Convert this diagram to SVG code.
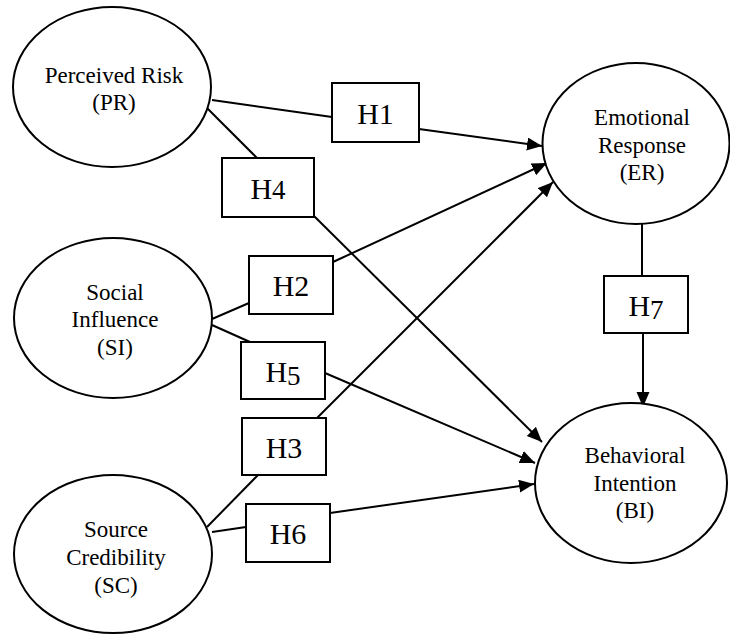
<svg xmlns="http://www.w3.org/2000/svg" width="730" height="635" viewBox="0 0 730 635">
<style>
.node ellipse{fill:#fff;stroke:#000;stroke-width:2}
.hyp rect{fill:#fff;stroke:#000;stroke-width:2}
.lbl{font-family:"Liberation Serif","Times New Roman",serif;font-size:23px;fill:#000;text-anchor:middle}
.hl{font-family:"Liberation Serif","Times New Roman",serif;font-size:30px;fill:#000;text-anchor:middle}
.os{font-size:27px}
.conn line{stroke:#000;stroke-width:2;fill:none}
</style>
<defs>
<marker id="arr" markerUnits="userSpaceOnUse" markerWidth="16" markerHeight="14" refX="15" refY="6.5" orient="auto">
<path d="M0,0 L15,6.5 L0,13 z" fill="#000"/>
</marker>
</defs>
<rect width="730" height="635" fill="#fff"/>
<g id="connectors" class="conn">
<line x1="212" y1="100" x2="332" y2="117"/>
<line x1="419" y1="129" x2="542" y2="146" marker-end="url(#arr)"/>
<line x1="207" y1="108" x2="257" y2="158"/>
<line x1="314" y1="216" x2="542" y2="442" marker-end="url(#arr)"/>
<line x1="212" y1="319" x2="249" y2="303"/>
<line x1="333" y1="262" x2="547" y2="163" marker-end="url(#arr)"/>
<line x1="212" y1="325" x2="250" y2="342"/>
<line x1="325" y1="373" x2="535" y2="463" marker-end="url(#arr)"/>
<line x1="207" y1="527" x2="258" y2="475"/>
<line x1="317" y1="418" x2="553" y2="182" marker-end="url(#arr)"/>
<line x1="212" y1="532" x2="246" y2="527"/>
<line x1="330" y1="513" x2="534" y2="484" marker-end="url(#arr)"/>
<line x1="642" y1="217" x2="642" y2="276"/>
<line x1="643" y1="333" x2="643" y2="407" marker-end="url(#arr)"/>
</g>
<g id="PR" class="node">
<ellipse cx="112" cy="87" rx="99" ry="80"/>
<text class="lbl" x="114" y="83">Perceived Risk</text>
<text class="lbl" x="114" y="110">(PR)</text>
</g>
<g id="SI" class="node">
<ellipse cx="113" cy="318" rx="99" ry="80"/>
<text class="lbl" x="115" y="300">Social</text>
<text class="lbl" x="115" y="327">Influence</text>
<text class="lbl" x="115" y="355">(SI)</text>
</g>
<g id="SC" class="node">
<ellipse cx="113" cy="554" rx="99" ry="79"/>
<text class="lbl" x="116" y="537">Source</text>
<text class="lbl" x="116" y="565">Credibility</text>
<text class="lbl" x="116" y="593">(SC)</text>
</g>
<g id="ER" class="node">
<ellipse cx="636" cy="143.5" rx="93.5" ry="80.5"/>
<text class="lbl" x="642" y="125">Emotional</text>
<text class="lbl" x="642" y="153">Response</text>
<text class="lbl" x="642" y="180">(ER)</text>
</g>
<g id="BI" class="node">
<ellipse cx="631" cy="483" rx="96" ry="80"/>
<text class="lbl" x="635" y="463">Behavioral</text>
<text class="lbl" x="635" y="491">Intention</text>
<text class="lbl" x="635" y="518">(BI)</text>
</g>
<g id="H1" class="hyp"><rect x="332" y="83" width="87" height="59"/><text class="hl" x="375.5" y="124">H1</text></g>
<g id="H4" class="hyp"><rect x="222" y="158" width="92" height="59"/><text class="hl" x="268" y="199">H<tspan class="os">4</tspan></text></g>
<g id="H2" class="hyp"><rect x="249" y="256" width="84" height="58"/><text class="hl" x="291" y="296">H2</text></g>
<g id="H5" class="hyp"><rect x="241" y="342" width="84" height="57"/><text class="hl" x="283" y="382">H<tspan class="os" dy="3">5</tspan></text></g>
<g id="H3" class="hyp"><rect x="242" y="418" width="84" height="57"/><text class="hl" x="284" y="458">H3</text></g>
<g id="H6" class="hyp"><rect x="246" y="504" width="84" height="58"/><text class="hl" x="288" y="544">H6</text></g>
<g id="H7" class="hyp"><rect x="604" y="276" width="84" height="57"/><text class="hl" x="646" y="316">H<tspan class="os" dy="3">7</tspan></text></g>
</svg>
